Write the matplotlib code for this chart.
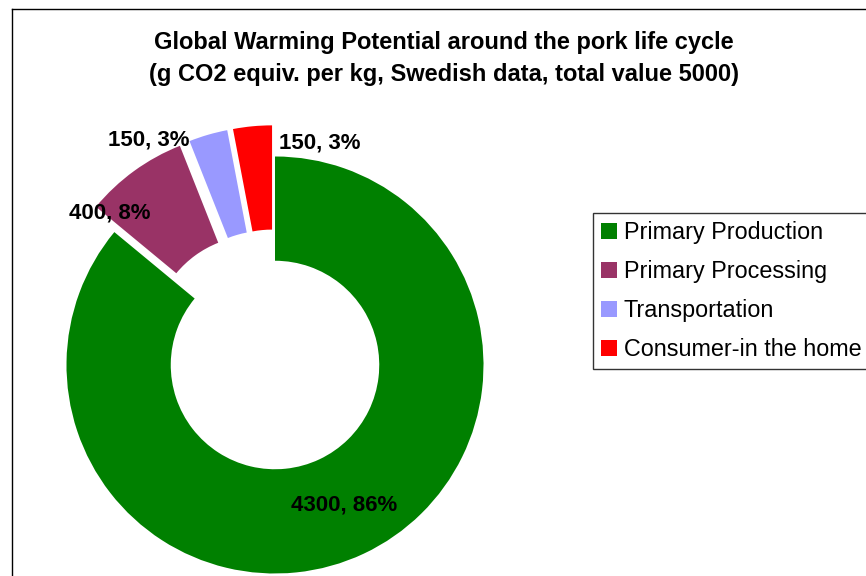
import matplotlib
matplotlib.use("Agg")
import matplotlib.pyplot as plt
from matplotlib.patches import Patch
from matplotlib.lines import Line2D

plt.rcParams['font.family'] = ['Liberation Sans', 'DejaVu Sans']

# g CO2 equiv. per kg pork, by life cycle stage
stages = ['Primary Production', 'Primary Processing', 'Transportation', 'Consumer-in the home']
values = [4300, 400, 150, 150]
colors = ['#008000', '#993366', '#9999FF', '#FF0000']
exploded = [False, True, True, True]

W, H = 866, 576
fig = plt.figure(figsize=(W / 100, H / 100), dpi=100)
ax = fig.add_axes([0, 0, 1, 1])

# pixel-like coordinates, y measured up from the bottom
cx, cy, r = 275, H - 365, 208.5
# pie() takes the explode offset in data units
explode = [0.15 * r if e else 0 for e in exploded]
wedges, _ = ax.pie(values, colors=colors, explode=explode, startangle=90,
                   counterclock=False, radius=r, center=(cx, cy),
                   wedgeprops=dict(width=r * 0.5, linewidth=0))
ax.set_xlim(0, W)
ax.set_ylim(0, H)
ax.set_aspect('equal')
ax.axis('off')

# data labels "value, percent"
total = sum(values)
label_pos = [(344, 505), (110, 213), (149, 140), (320, 143)]
for v, (lx, ly) in zip(values, label_pos):
    ax.text(lx, H - ly, f"{v}, {v / total * 100:.0f}%", ha='center', va='center',
            fontsize=16, fontweight='bold')

ax.text(444, H - 43, "Global Warming Potential around the pork life cycle",
        ha='center', va='center', fontsize=17, fontweight='bold')
ax.text(444, H - 74, "(g CO2 equiv. per kg, Swedish data, total value 5000)",
        ha='center', va='center', fontsize=17, fontweight='bold')

handles = [Patch(facecolor=c, edgecolor='none') for c in colors]
leg = ax.legend(handles, stages, loc='upper left',
                bbox_to_anchor=(593 / W, 1 - 213 / H), bbox_transform=fig.transFigure,
                fontsize=16.8, frameon=True, fancybox=False, borderaxespad=0,
                borderpad=0.36, handlelength=0.66, handleheight=0.66,
                handletextpad=0.3, labelspacing=0.68)
leg.get_frame().set_edgecolor('black')
leg.get_frame().set_linewidth(1)

# chart area border (runs off the right and bottom edges)
fig.add_artist(Line2D([12 / W, 12 / W], [0, 1 - 9 / H], color='black', linewidth=1))
fig.add_artist(Line2D([12 / W, 1], [1 - 9 / H, 1 - 9 / H], color='black', linewidth=1))

fig.savefig('out.png', dpi=100)
